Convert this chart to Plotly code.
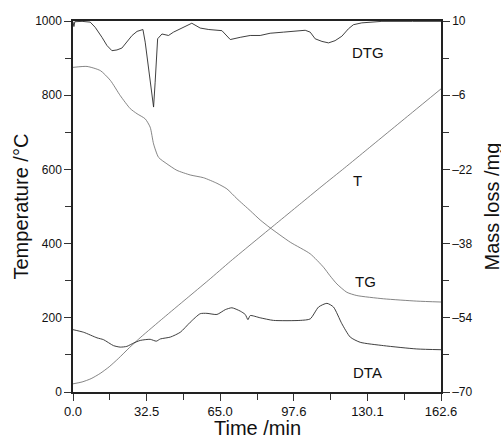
import plotly.graph_objects as go

# ---- data (time in min) ----
t_T = [0, 4, 8, 12, 16, 20, 25, 30, 40, 50, 60, 69.5, 80, 90, 100, 110, 120, 130, 140, 150, 162.6]
T_vals = [22, 27, 36, 50, 68, 90, 120, 148, 200, 251, 302, 352, 405, 455, 505, 555, 604, 654, 704, 754, 817]

t_DTG = [0, 0.4, 0.8, 4, 7.6, 9.8, 12.8, 15.0, 17.2, 19.4, 21.6, 23.8, 26.1, 28.3, 30.9, 31.9, 33.0,
         34.1, 35.0, 35.6, 36.3, 37.4, 39.3, 42.2, 44.4, 48.8, 52.5, 56.2, 60, 65.8, 69.5, 73.9, 78.3,
         82.7, 87.1, 93.0, 98, 102.6, 104.8, 107.0, 110.0, 112.9, 115.8, 118.8, 121.7, 123.9, 127.6,
         136.5, 150, 162.6]
DTG_vals = [998, 985, 998, 999, 997, 983, 956, 934, 920, 922, 927, 943, 961, 972, 977, 943, 890,
            835, 790, 768, 835, 952, 965, 961, 970, 983, 994, 981, 977, 974, 950, 956, 961,
            961, 967, 970, 972, 975, 970, 952, 945, 941, 947, 959, 979, 990, 995,
            999, 999, 999]

t_TG = [0, 6.2, 12.1, 16.5, 20.9, 25.3, 28.3, 31.9, 34.1, 35.6, 37.8, 41.5, 45.9, 51.8, 57.7, 63.6,
        68.0, 72.4, 78.3, 82.7, 87.1, 96.0, 104.8, 110.7, 113.5, 116.6, 121.0, 125.4, 137.2, 151.9, 162.6]
TG_vals = [0.0, 0.2, -0.7, -2.8, -6.1, -8.9, -10.0, -11.1, -12.9, -16.5, -19.4, -20.8, -22.2, -23.2,
           -23.8, -25.0, -26.2, -28.3, -30.9, -32.9, -34.6, -37.7, -40.2, -43.1, -44.9, -46.7, -48.5,
           -49.2, -49.9, -50.4, -50.6]

t_DTA = [0, 4.7, 10.6, 13.5, 17.9, 20.9, 23.8, 26.8, 29.7, 34.1, 36.8, 38.6, 43.0, 47.4, 51.8, 56.2,
         59.2, 63.6, 67.3, 70.2, 73.9, 76.1, 77.3, 78.3, 82.7, 88.6, 100.4, 104.8, 108.5, 112.2, 115.1,
         118.8, 122.5, 126.9, 137.2, 151.9, 162.6]
DTA_vals = [168, 161, 146, 141, 125, 121, 123, 132, 139, 142, 137, 143, 148, 161, 188, 211,
            212, 209, 222, 227, 218, 209, 195, 206, 200, 193, 193, 197, 229, 239, 229,
            184, 148, 134, 125, 116, 114]

x_ticks = [0, 32.52, 65.04, 97.56, 130.08, 162.6]
x_labels = ["0.0", "32.5", "65.0", "97.6", "130.1", "162.6"]
y_ticks = [0, 200, 400, 600, 800, 1000]
y2_ticks = [-70, -54, -38, -22, -6, 10]
y2_labels = ["\u201370", "\u201354", "\u201338", "\u201322", "\u20136", "10"]

FONT = "Liberation Sans, Arial, sans-serif"

fig = go.Figure()
fig.add_trace(go.Scatter(x=t_T, y=T_vals, mode="lines", line=dict(color="#666666", width=0.8, shape="spline", smoothing=0.6), showlegend=False))
fig.add_trace(go.Scatter(x=t_DTG, y=DTG_vals, mode="lines", line=dict(color="#2a2a2a", width=0.9), showlegend=False))
fig.add_trace(go.Scatter(x=t_DTA, y=DTA_vals, mode="lines", line=dict(color="#2a2a2a", width=0.9, shape="spline", smoothing=0.6), showlegend=False))
fig.add_trace(go.Scatter(x=t_TG, y=TG_vals, mode="lines", yaxis="y2", line=dict(color="#666666", width=0.8, shape="spline", smoothing=0.6), showlegend=False))

for txt, x, y in [("DTG", 130.5, 916), ("T", 125.7, 570), ("TG", 129.1, 298), ("DTA", 130.1, 53)]:
    fig.add_annotation(x=x, y=y, text=txt, showarrow=False, font=dict(family=FONT, size=15, color="#111"))

# axis titles as annotations for exact placement
TITLE_FONT = dict(family=FONT, size=20, color="#111")
fig.add_annotation(xref="paper", yref="paper", x=0.5, y=0, yshift=-36, xanchor="center", yanchor="middle",
                   text="Time /min", showarrow=False, font=TITLE_FONT)
fig.add_annotation(xref="paper", yref="paper", x=0, y=0.5, xshift=-53, xanchor="center", yanchor="middle",
                   text="Temperature /°C", textangle=-90, showarrow=False, font=TITLE_FONT)
fig.add_annotation(xref="paper", yref="paper", x=1, y=0.5, xshift=50, xanchor="center", yanchor="middle",
                   text="Mass loss /mg", textangle=-90, showarrow=False, font=TITLE_FONT)

axis_common = dict(showgrid=False, zeroline=False, showline=True, linecolor="#222", linewidth=1.5,
                   ticks="outside", ticklen=7, tickwidth=1, tickcolor="#333", automargin=False,
                   tickfont=dict(family=FONT, size=12, color="#111"))

fig.update_layout(
    width=501, height=437,
    margin=dict(l=73, r=60, t=21, b=45),
    plot_bgcolor="white", paper_bgcolor="white",
    xaxis=dict(range=[0, 162.6], tickmode="array", tickvals=x_ticks, ticktext=x_labels, mirror=True,
               minor=dict(tickmode="array", tickvals=[16.26, 48.78, 81.3, 113.82, 146.34], ticks="outside", ticklen=6, tickcolor="#333"),
               **{**axis_common, "tickfont": dict(family=FONT, size=13, color="#111")}),
    yaxis=dict(range=[0, 1000], tickmode="array", tickvals=y_ticks,
               minor=dict(dtick=100, ticks="outside", ticklen=6, tickcolor="#333"),
               **axis_common),
    yaxis2=dict(range=[-70, 10], overlaying="y", side="right", tickmode="array", tickvals=y2_ticks, ticktext=y2_labels,
                minor=dict(tickmode="array", tickvals=[-62, -46, -30, -14, 2], ticks="outside", ticklen=6, tickcolor="#333"),
                **axis_common),
)

fig.write_html("out.html", config={"displayModeBar": False},
               post_script="document.body.style.margin='0';document.body.style.padding='0';")
